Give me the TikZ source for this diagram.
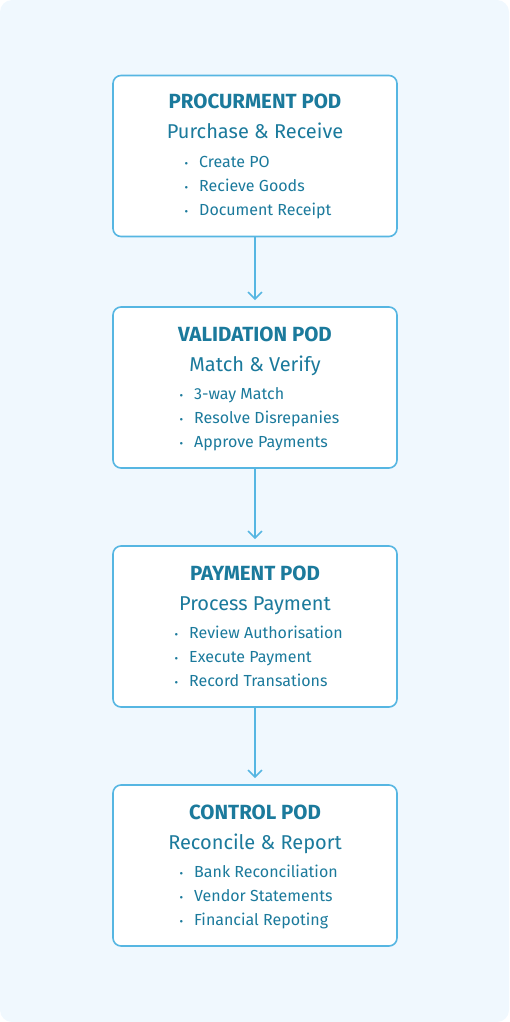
\documentclass[tikz,border=0pt]{standalone}
\usepackage{fontspec}
\setmainfont{Fira Sans}
\usetikzlibrary{arrows.meta}
\definecolor{pagebg}{HTML}{F0F8FE}
\definecolor{podline}{HTML}{56B6E2}
\definecolor{podtext}{HTML}{1B7A9C}
\tikzset{
  podbox/.style={draw=podline, line width=1.6pt, fill=white, rounded corners=8pt,
    minimum width=284pt, minimum height=161pt, inner sep=0pt},
  podtitle/.style={anchor=base, text=podtext, font=\fontsize{20.5}{24}\selectfont\bfseries},
  podsub/.style={anchor=base, text=podtext, font=\fontsize{20}{24}\selectfont},
  poditem/.style={anchor=base west, text=podtext, font=\fontsize{16}{19}\selectfont, inner sep=0pt},
  podflow/.style={draw=podline, line width=1.6pt, shorten >=6pt,
    -{Straight Barb[length=7pt,width=14pt,line width=1.6pt]}}
}
\newcommand{\poddot}{\makebox[14.5pt][l]{\fontsize{11}{11}\selectfont\textbullet}}
\begin{document}
\begin{tikzpicture}[x=1pt,y=-1pt]
        \useasboundingbox (0,0) rectangle (509,1022);
        \fill [pagebg, rounded corners=12pt] (0,0) rectangle (509,1022);
        % boxes
        \node [podbox] (proc) at (255,156) {};
        \node [podbox] (valid) at (255,387.5) {};
        \node [podbox] (pay) at (255,626.5) {};
        \node [podbox] (ctrl) at (255,865.5) {};
        % procurement
        \node [podtitle] (proct) at (255,109) {PROCURMENT POD};
        \node [podsub] (procs) at (255,139) {Purchase \& Receive};
        \node [poditem] (proca) at (184.5,167) {\poddot Create PO};
        \node [poditem] (procb) at (184.5,191) {\poddot Recieve Goods};
        \node [poditem] (procc) at (184.5,215) {\poddot Document Receipt};
        % validation
        \node [podtitle] (validt) at (255,341) {VALIDATION POD};
        \node [podsub] (valids) at (255,371) {Match \& Verify};
        \node [poditem] (valida) at (179.5,399) {\poddot 3-way Match};
        \node [poditem] (validb) at (179.5,423) {\poddot Resolve Disrepanies};
        \node [poditem] (validc) at (179.5,447) {\poddot Approve Payments};
        % payment
        \node [podtitle] (payt) at (255,580) {PAYMENT POD};
        \node [podsub] (pays) at (255,610) {Process Payment};
        \node [poditem] (paya) at (174.5,638) {\poddot Review Authorisation};
        \node [poditem] (payb) at (174.5,662) {\poddot Execute Payment};
        \node [poditem] (payc) at (174.5,686) {\poddot Record Transations};
        % control
        \node [podtitle] (ctrlt) at (255,819) {CONTROL POD};
        \node [podsub] (ctrls) at (255,849) {Reconcile \& Report};
        \node [poditem] (ctrla) at (179.5,877) {\poddot Bank Reconciliation};
        \node [poditem] (ctrlb) at (179.5,901) {\poddot Vendor Statements};
        \node [poditem] (ctrlc) at (179.5,925) {\poddot Financial Repoting};
        % flow
        \draw [podflow] (proc) -- (valid);
        \draw [podflow] (valid) -- (pay);
        \draw [podflow] (pay) -- (ctrl);
\end{tikzpicture}
\end{document}
